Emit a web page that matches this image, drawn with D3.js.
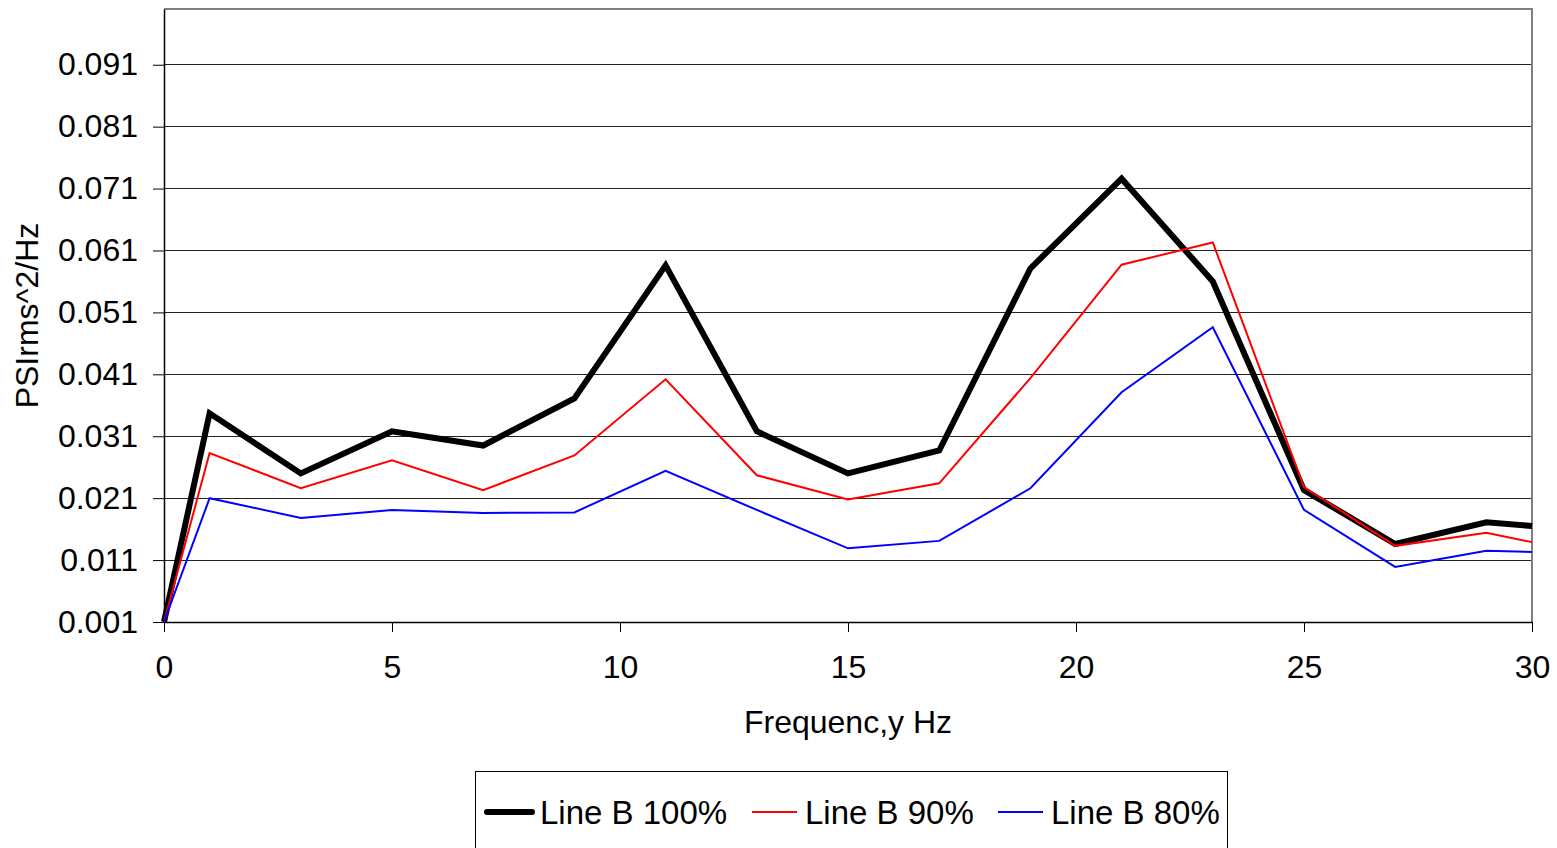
<!DOCTYPE html>
<html>
<head>
<meta charset="utf-8">
<script src="https://cdn.jsdelivr.net/npm/d3@7"></script>
<style>
  body { margin: 0; background: #fff; }
  text { font-family: Arial, "Liberation Sans", sans-serif; fill: #000; }
</style>
</head>
<body>
<div class="chart-container"></div>
<script>
// frequencies sampled (Hz)
const freqs = [0, 1, 3, 5, 7, 9, 11, 13, 15, 17, 19, 21, 23, 25, 27, 29, 30];

// PSD values
const line100 = [0.001, 0.0347, 0.0250, 0.0318, 0.0295, 0.0371, 0.0586, 0.0318, 0.0250, 0.0287, 0.0581, 0.0726, 0.0560, 0.0223, 0.0136, 0.0171, 0.0165];
const line90 = [0.001, 0.0283, 0.0226, 0.0271, 0.0223, 0.0279, 0.0402, 0.0247, 0.0208, 0.0234, 0.0404, 0.0587, 0.0623, 0.0228, 0.0133, 0.0154, 0.0139];
const line80 = [0.001, 0.0210, 0.0178, 0.0191, 0.0186, 0.0187, 0.0254, 0.0191, 0.0129, 0.0141, 0.0226, 0.0381, 0.0486, 0.0191, 0.0099, 0.0125, 0.0123];

const seriesNames = ['Line B 100%', 'Line B 90%', 'Line B 80%'];
const yTicks = [0.001, 0.011, 0.021, 0.031, 0.041, 0.051, 0.061, 0.071, 0.081, 0.091];
const xTicks = [0, 5, 10, 15, 20, 25, 30];

const width = 1557, height = 848;
const margin = { top: 9, right: 25, bottom: 226, left: 164 };
const fontSize = '32px';

const series = [
  { name: seriesNames[0], values: line100, color: '#000', width: 6 },
  { name: seriesNames[1], values: line90, color: '#ff0000', width: 2 },
  { name: seriesNames[2], values: line80, color: '#0000ff', width: 2 }
];

const svg = d3.select('.chart-container')
  .append('svg')
  .attr('width', width)
  .attr('height', height);

const x = d3.scaleLinear()
  .domain([0, 30])
  .range([margin.left, width - margin.right]);

const y = d3.scaleLinear()
  .domain([0.001, 0.1])
  .range([height - margin.bottom, margin.top]);

// gridlines
svg.append('g')
  .selectAll('line')
  .data(yTicks.slice(1))
  .enter().append('line')
  .attr('x1', x(0))
  .attr('x2', x(30))
  .attr('y1', d => y(d))
  .attr('y2', d => y(d))
  .attr('stroke', '#222')
  .attr('stroke-width', 1)
  .attr('shape-rendering', 'crispEdges');

// plot border (top + right)
svg.append('path')
  .attr('d', `M${x(0)},${y(0.1)}H${x(30)}V${y(0.001)}`)
  .attr('fill', 'none')
  .attr('stroke', '#808080')
  .attr('stroke-width', 1.5)
  .attr('shape-rendering', 'crispEdges');

// y axis
const yAxis = svg.append('g')
  .attr('transform', `translate(${x(0)},0)`)
  .call(d3.axisLeft(y).tickValues(yTicks).tickFormat(d3.format('.3f')).tickSize(11).tickPadding(15).tickSizeOuter(0));

// x axis
const xAxis = svg.append('g')
  .attr('transform', `translate(0,${y(0.001)})`)
  .call(d3.axisBottom(x).tickValues(xTicks).tickSize(10).tickPadding(23).tickSizeOuter(0));

[yAxis, xAxis].forEach(ax => {
  ax.select('.domain').attr('stroke', '#000').attr('stroke-width', 1.5);
  ax.selectAll('.tick line').attr('stroke', '#000');
  ax.selectAll('.tick text')
    .style('font-size', fontSize)
    .style('font-family', 'Arial, "Liberation Sans", sans-serif');
});

// axis titles
svg.append('text')
  .attr('x', (x(0) + x(30)) / 2)
  .attr('y', 733)
  .attr('text-anchor', 'middle')
  .style('font-size', fontSize)
  .text('Frequenc,y Hz');

svg.append('text')
  .attr('transform', `translate(38,${(y(0.001) + y(0.1)) / 2}) rotate(-90)`)
  .attr('text-anchor', 'middle')
  .style('font-size', fontSize)
  .text('PSIrms^2/Hz');

// lines, thin ones drawn on top of the thick one
const line = d3.line()
  .x((d, i) => x(freqs[i]))
  .y(d => y(d));

svg.append('g')
  .selectAll('path')
  .data(series)
  .enter().append('path')
  .attr('d', d => line(d.values))
  .attr('fill', 'none')
  .attr('stroke', d => d.color)
  .attr('stroke-width', d => d.width)
  .attr('stroke-linejoin', 'miter');

// legend
const legend = svg.append('g');
legend.append('rect')
  .attr('x', 475.5)
  .attr('y', 771.5)
  .attr('width', 752)
  .attr('height', 100)
  .attr('fill', '#fff')
  .attr('stroke', '#000')
  .attr('stroke-width', 1);

const legendX = [487, 752, 998];
const item = legend.selectAll('.item')
  .data(series)
  .enter().append('g')
  .attr('class', 'item')
  .attr('transform', (d, i) => `translate(${legendX[i]},812)`);

item.append('line')
  .attr('x1', 0)
  .attr('x2', 45)
  .attr('stroke', d => d.color)
  .attr('stroke-width', d => d.width)
  .attr('stroke-linecap', d => d.width > 3 ? 'round' : 'butt');

item.append('text')
  .attr('x', 53)
  .attr('y', 12)
  .style('font-size', '33px')
  .text(d => d.name);
</script>
</body>
</html>
